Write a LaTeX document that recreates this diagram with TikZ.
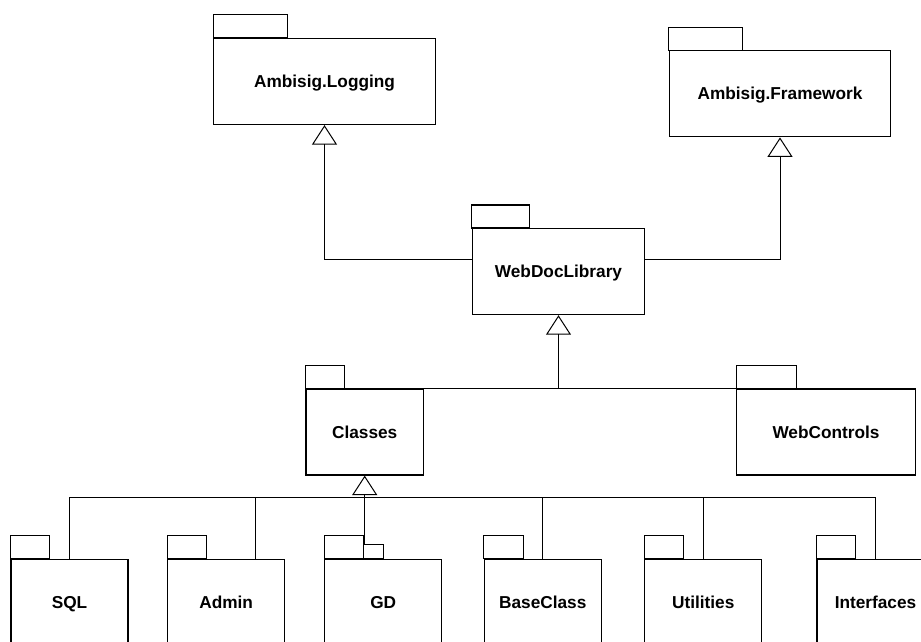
\documentclass[tikz,border=0pt]{standalone}
\usepackage{fontspec}
\setmainfont{Liberation Sans}
\usetikzlibrary{arrows.meta, positioning}

\begin{document}
\begin{tikzpicture}[x=1pt,y=1pt,on grid,
    pkg/.style={draw,line width=1.2pt,minimum height=86pt,inner sep=0pt,
      text height=12.4pt,text depth=0pt,
      font=\fontsize{17.25}{20}\selectfont\bfseries},
    gen/.style={-{Triangle[open,length=19.5pt,width=25pt]},line width=1pt}]
       \useasboundingbox (0,0) rectangle (921,641);
       \clip (0,0) rectangle (921,641);
       % top row
       \node[pkg,minimum width=221.6pt] (log) at (324.5,559.5) {Ambisig.Logging};
       \node[pkg,minimum width=221.4pt] (fw)  at (780,547.2)   {Ambisig.Framework};
       \node[pkg,minimum width=172.4pt] (wdl) at (558.5,369.4) {WebDocLibrary};
       \node[pkg,minimum width=117.3pt] (cls) at (364.7,209)   {Classes};
       \node[pkg,minimum width=178.6pt] (wctl) at (826,209)    {WebControls};
       % bottom row
       \node[pkg,minimum width=117pt] (sql)   at (69.5,38.7)          {SQL};
       \node[pkg,minimum width=117pt] (admin) [right=156.7pt of sql]  {Admin};
       \node[pkg,minimum width=117pt] (gd)    [right=157pt of admin]  {GD};
       \node[pkg,minimum width=117pt] (base)  [right=159.6pt of gd]   {BaseClass};
       \node[pkg,minimum width=117pt] (util)  [right=160.4pt of base] {Utilities};
       \node[pkg,minimum width=117pt] (intf)  [right=172.3pt of util] {Interfaces};
       % tabs
       \foreach \n/\w in {log/74, fw/74, wdl/57.7, cls/39.3, wctl/60,
                          sql/39, admin/39, gd/39, base/39.4, util/39, intf/39.3}
         \draw[line width=1.2pt] (\n.north west) rectangle ++(\w,23);
       \draw[line width=1pt] ([xshift=-19.5pt]gd.north) rectangle ++(19.5,14.3);
       \coordinate (gdtop) at ([xshift=-19.5pt,yshift=14.3pt]gd.north);

       \draw[gen] ([yshift=12.3pt]wdl.west) -| (log.south);
       \draw[gen] ([yshift=12.3pt]wdl.east) -| (fw.south);
       \draw[line width=1pt] (cls.north east) -- (wctl.north west);
       \draw[gen] (cls.north east -| wdl.south) -- (wdl.south);

       \draw[line width=1pt] (sql.north) -- ++(0,60.8) -| (intf.north);
       \draw[line width=1pt] ([xshift=29pt]admin.north) -- ++(0,60.8);
       \foreach \n in {base, util}
         \draw[line width=1pt] (\n.north) -- ++(0,60.8);
       \draw[gen] (cls.south |- gdtop) -- (cls.south);
    \end{tikzpicture}
\end{document}
